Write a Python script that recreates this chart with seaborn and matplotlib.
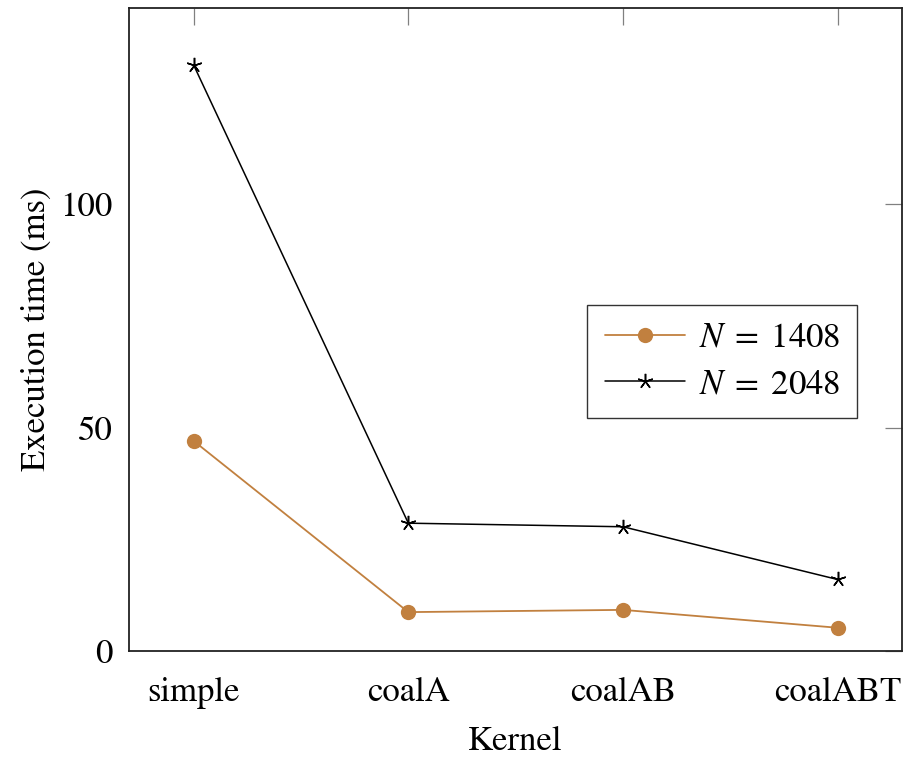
import matplotlib
matplotlib.use("Agg")
import matplotlib.pyplot as plt
import seaborn as sns
import pandas as pd

kernels = ["simple", "coalA", "coalAB", "coalABT"]
time_1408 = [47.0, 8.7, 9.2, 5.2]
time_2048 = [131.1, 28.6, 27.8, 16.0]
series_labels = [r"$N\;=\;1408$", r"$N\;=\;2048$"]
y_ticks = [0, 50, 100]

sns.set_theme(style="white")
plt.rcParams["font.family"] = ["STIXGeneral", "DejaVu Serif"]
plt.rcParams["mathtext.fontset"] = "stix"

fig = plt.figure(figsize=(9.15, 7.59), dpi=100)
ax = fig.add_axes([0.1413, 0.1423, 0.9858 - 0.1413, 0.989 - 0.1423])

df1 = pd.DataFrame({"Kernel": kernels, "time": time_1408})
df2 = pd.DataFrame({"Kernel": kernels, "time": time_2048})

sns.lineplot(data=df1, x="Kernel", y="time", ax=ax, color="#c1803f",
             linewidth=1.3, marker="o", markersize=11, markeredgewidth=0,
             label=series_labels[0])
sns.lineplot(data=df2, x="Kernel", y="time", ax=ax, color="black",
             linewidth=1.1, marker=(5, 2, 0), markersize=11, markeredgewidth=1.1,
             markeredgecolor="black", label=series_labels[1])

ax.set_xlim(-0.3, 3.3)
ax.set_ylim(0, 143.8)
ax.set_yticks(y_ticks)
ax.set_xticks(range(len(kernels)))
ax.set_xticklabels(kernels)

ax.tick_params(axis="both", direction="in", length=12, width=0.9, color="#808080",
               labelsize=25, top=True, right=True, labelcolor="black")
ax.tick_params(axis="x", pad=19)
ax.tick_params(axis="y", pad=12)
for s in ax.spines.values():
    s.set_color("#222222")
    s.set_linewidth(1.3)

ax.set_xlabel("Kernel", fontsize=25, labelpad=12, color="black")
ax.set_ylabel("Execution time (ms)", fontsize=25, labelpad=5, color="black")

leg = ax.legend(loc="center right", bbox_to_anchor=(0.942, 0.45), fontsize=25,
                frameon=True, fancybox=False, edgecolor="black",
                handlelength=2.3, borderpad=0.5, labelspacing=0.4,
                handletextpad=0.4, borderaxespad=0)
leg.get_frame().set_linewidth(1.0)
for t in leg.get_texts():
    t.set_color("black")

fig.savefig("out.png", dpi=100)
